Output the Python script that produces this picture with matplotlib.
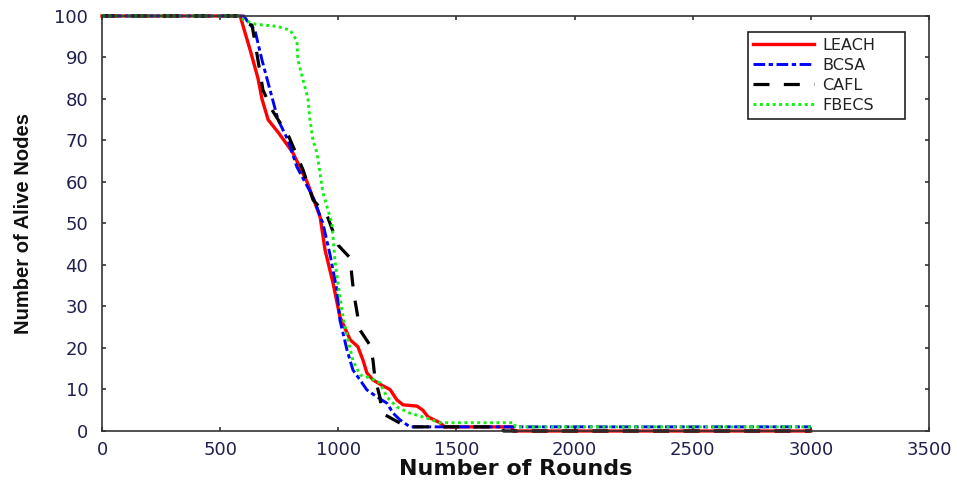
import matplotlib
matplotlib.use("Agg")
import matplotlib.pyplot as plt

# Alive-node counts per round for each clustering protocol
leach_rounds = [0, 585, 600, 626, 660, 677, 703, 745, 796, 808, 868, 923, 944, 978,
                1007, 1050, 1083, 1105, 1121, 1147, 1185, 1219, 1248, 1274, 1333,
                1358, 1380, 1430, 1450, 1735, 1740, 3000]
leach_alive = [100, 100, 97, 92, 85, 80, 75, 72, 68, 67, 60, 51.6, 43.6, 35.6,
               27.5, 22, 20.3, 17, 14, 12.3, 11, 10, 7.5, 6.3, 6,
               5, 3.4, 2, 1, 1, 0, 0]

bcsa_rounds = [0, 600, 625, 647, 677, 711, 745, 787, 825, 893, 935, 965, 994,
               1007, 1037, 1062, 1092, 1121, 1164, 1206, 1232, 1261, 1303, 3000]
bcsa_alive = [100, 100, 98, 96.6, 89.4, 82.2, 75, 70.1, 63.6, 56.4, 50, 42.5, 34,
              26.7, 19.5, 14.7, 12.3, 9.9, 8.2, 6.7, 4.3, 2.7, 1, 1]

cafl_rounds = [0, 600, 620, 635, 660, 681, 719, 791, 851, 893, 952, 999, 1050,
               1058, 1066, 1079, 1092, 1134, 1147, 1155, 1176, 1185, 1261, 1282,
               1690, 1700, 3000]
cafl_alive = [100, 100, 98, 97.8, 89.4, 82.2, 77.4, 70.9, 62.9, 55.7, 52, 44.8, 41.7,
              37, 33, 28.7, 24.3, 20.7, 17, 12.8, 8.2, 4.3, 1.9, 1,
              1, 0, 0]

fbecs_rounds = [0, 585, 600, 650, 740, 796, 825, 829, 851, 872, 880, 893, 910,
                935, 973, 986, 1007, 1020, 1041, 1062, 1092, 1134, 1176, 1206,
                1248, 1303, 1375, 1430, 1745, 1750, 3000]
fbecs_alive = [100, 100, 99, 98, 97.5, 96.6, 94, 89.4, 84.6, 80, 75, 70, 67,
               57.4, 50, 41, 32.3, 27.5, 22, 17, 13.5, 12.8, 11.6, 8.2,
               5.8, 4.3, 3.1, 2, 2, 1, 1]

protocols = ["LEACH", "BCSA", "CAFL", "FBECS"]
x_ticks = [0, 500, 1000, 1500, 2000, 2500, 3000, 3500]
y_ticks = [0, 10, 20, 30, 40, 50, 60, 70, 80, 90, 100]

fig = plt.figure(figsize=(9.57, 4.84), dpi=100)
ax = fig.add_axes([0.1066, 0.1095, 0.8641, 0.8575])

ax.plot(leach_rounds, leach_alive, color="#ff0000", lw=2.4,
        label=protocols[0], clip_on=False)
ax.plot(bcsa_rounds, bcsa_alive, color="#0000ff", lw=2.1,
        linestyle=(0, (4, 1.2, 1.5, 1.2)), label=protocols[1], clip_on=False)
ax.plot(cafl_rounds, cafl_alive, color="#000000", lw=2.3,
        linestyle=(0, (5, 4.5)), label=protocols[2], clip_on=False)
ax.plot(fbecs_rounds, fbecs_alive, color="#12ee12", lw=2.1,
        linestyle=(0, (1, 1.2)), label=protocols[3], clip_on=False)

ax.set_xlim(0, 3500)
ax.set_ylim(0, 100)
ax.set_xticks(x_ticks)
ax.set_yticks(y_ticks)

tick_color = "#202050"
ax.tick_params(direction="in", length=3, width=1.1, top=True, right=True,
               labelsize=13, colors="#222222", labelcolor=tick_color)
ax.tick_params(axis="y", pad=10)
ax.tick_params(axis="x", pad=7)
for lab in ax.get_xticklabels() + ax.get_yticklabels():
    lab.set_family("DejaVu Sans")

for sp in ax.spines.values():
    sp.set_color("#333333")
    sp.set_linewidth(1.2)

ax.set_xlabel("Number of Rounds", fontsize=16, fontweight="bold",
              family="DejaVu Sans", color="#111111")
ax.xaxis.set_label_coords(0.5, -0.068)
ax.set_ylabel("Number of Alive Nodes", fontsize=14.5, fontweight="bold",
              family="Liberation Sans", color="#111111")
ax.yaxis.set_label_coords(-0.083, 0.5)

# legend frame spans a fixed box in the upper right corner
leg = ax.legend(loc="upper left", bbox_to_anchor=(0.781, 0.761, 0.19, 0.2),
                mode="expand", borderaxespad=0, fancybox=False, framealpha=1,
                edgecolor="#222222", handlelength=3.8,
                handletextpad=0.5, labelspacing=0.32, borderpad=0.35,
                prop={"family": "DejaVu Sans", "size": 11.5})
leg.get_frame().set_linewidth(1.2)
for t in leg.get_texts():
    t.set_color("#222222")

fig.savefig("out.png", dpi=100, facecolor="white")
